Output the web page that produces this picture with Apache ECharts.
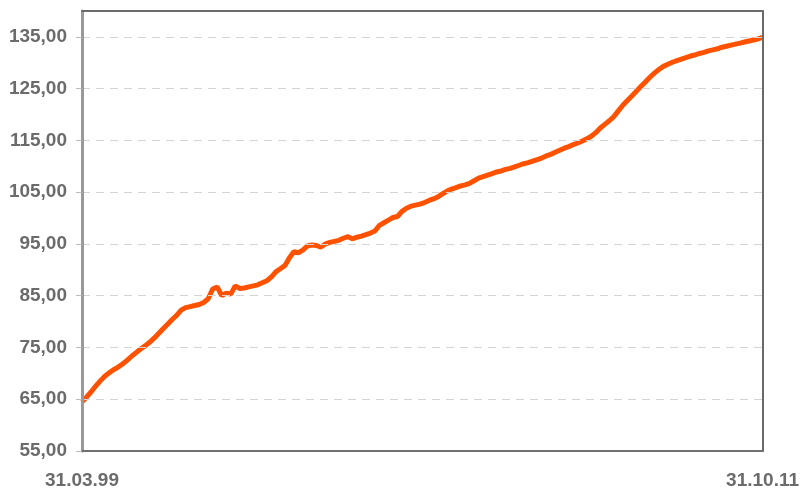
<!DOCTYPE html>
<html>
<head>
<meta charset="utf-8">
<script src="https://cdn.jsdelivr.net/npm/echarts@6/dist/echarts.min.js"></script>
<style>html,body{margin:0;padding:0;background:#fff;}#c{width:802px;height:491px;}</style>
</head>
<body>
<div id="c"></div>
<script>
// End-of-month index from 31.03.99 (index 0) to 31.10.11 (index 151)
var xLabels = ['31.03.99', '31.10.11'];
var values = [
  64.5, 65.4, 66.4, 67.5, 68.5, 69.4, 70.1, 70.7, 71.2, 71.8,
  72.5, 73.3, 74.0, 74.7, 75.3, 76.0, 76.8, 77.7, 78.6, 79.5,
  80.4, 81.2, 82.2, 82.7, 82.9, 83.1, 83.3, 83.7, 84.4, 86.3,
  86.7, 85.0, 85.5, 85.3, 86.9, 86.4, 86.5, 86.7, 86.9, 87.1,
  87.5, 87.9, 88.6, 89.6, 90.2, 90.8, 92.3, 93.5, 93.3, 93.8,
  94.6, 94.8, 94.7, 94.4, 95.0, 95.3, 95.5, 95.7, 96.1, 96.4,
  96.0, 96.3, 96.5, 96.8, 97.1, 97.5, 98.6, 99.1, 99.6, 100.1,
  100.3, 101.3, 101.9, 102.3, 102.5, 102.7, 103.0, 103.4, 103.7, 104.1,
  104.7, 105.2, 105.6, 105.9, 106.2, 106.4, 106.7, 107.2, 107.7, 108.0,
  108.3, 108.6, 108.9, 109.1, 109.4, 109.6, 109.9, 110.2, 110.5, 110.7,
  111.0, 111.3, 111.6, 112.0, 112.3, 112.7, 113.1, 113.5, 113.8, 114.2,
  114.5, 114.9, 115.3, 115.8, 116.5, 117.4, 118.1, 118.8, 119.6, 120.7,
  121.8, 122.7, 123.6, 124.5, 125.4, 126.3, 127.2, 128.0, 128.7, 129.3,
  129.7, 130.1, 130.4, 130.7, 131.0, 131.3, 131.5, 131.8, 132.0, 132.3,
  132.5, 132.7, 133.0, 133.2, 133.4, 133.6, 133.8, 134.0, 134.2, 134.4,
  134.6, 134.9
];
var yMin = 55, yMax = 140, yStep = 10;

var lastIdx = values.length - 1;
var seriesData = values.map(function (v, i) { return [i, v]; });
var labelFont = {
  color: '#6b6b6b', fontFamily: 'Liberation Sans, Arial, sans-serif',
  fontWeight: 'bold', fontSize: 19
};

var chart = echarts.init(document.getElementById('c'));
chart.setOption({
  animation: false,
  grid: { left: 82, right: 37, top: 11, bottom: 40, show: false },
  xAxis: [{
    type: 'value', min: 0, max: lastIdx, interval: lastIdx, z: 4,
    axisLine: { show: true, lineStyle: { color: '#707070', width: 2 } },
    axisTick: { show: false },
    splitLine: { show: false },
    axisLabel: Object.assign({
      margin: 20,
      formatter: function (v) { return v === 0 ? xLabels[0] : (v === lastIdx ? xLabels[1] : ''); }
    }, labelFont)
  }, {
    type: 'value', position: 'top', min: 0, max: lastIdx, z: 4,
    axisLine: { show: true, onZero: false, lineStyle: { color: '#6a6a6a', width: 2 } },
    axisTick: { show: false }, axisLabel: { show: false }, splitLine: { show: false }
  }],
  yAxis: [{
    type: 'value', min: yMin, max: yMax, interval: yStep, z: 4,
    axisLine: { show: true, lineStyle: { color: '#999999', width: 3 } },
    axisTick: { show: true, length: 6, lineStyle: { color: '#bbbbbb', width: 1 } },
    splitLine: { show: true, lineStyle: { color: '#d4d4d4', type: [8, 6], width: 1 } },
    axisLabel: Object.assign({
      showMaxLabel: false,
      margin: 15,
      formatter: function (v) { return v.toFixed(2).replace('.', ','); }
    }, labelFont)
  }, {
    type: 'value', position: 'right', min: yMin, max: yMax, z: 4,
    axisLine: { show: true, onZero: false, lineStyle: { color: '#6a6a6a', width: 2 } },
    axisTick: { show: false }, axisLabel: { show: false }, splitLine: { show: false }
  }],
  series: [{
    type: 'line',
    data: seriesData,
    showSymbol: false,
    symbol: 'none',
    lineStyle: { color: '#ff5200', width: 5 },
    z: 3
  }]
});
</script>
</body>
</html>
